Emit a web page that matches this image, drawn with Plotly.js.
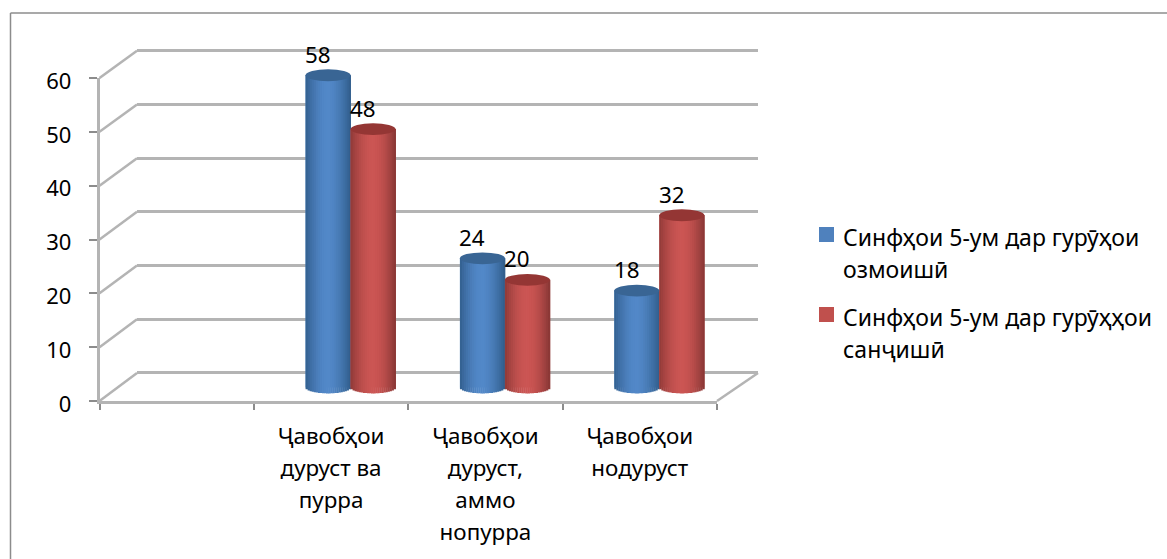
<!DOCTYPE html>
<html><head><meta charset="utf-8">
<script src="https://cdn.plot.ly/plotly-3.0.1.min.js"></script>
<style>html,body{margin:0;padding:0;background:#fff}</style></head>
<body><div id="chart" style="width:1167px;height:559px"></div>
<script>
// ---- data ----
const categories = ["Ҷавобҳои<br>дуруст ва<br>пурра", "Ҷавобҳои<br>дуруст,<br>аммо<br>нопурра", "Ҷавобҳои<br>нодуруст"];
const seriesNames = ["Синфҳои 5-ум дар гурӯҳои<br>озмоишӣ", "Синфҳои 5-ум дар гурӯҳҳои<br>санҷишӣ"];
const valuesBlue = [58, 24, 18];
const valuesRed = [48, 20, 32];
const yTicks = [0, 10, 20, 30, 40, 50, 60];

// ---- style / layout constants (pixels of the 1167x559 page) ----
const W = 1167, H = 559;
const FONT = "Noto Sans, sans-serif";
const TXT = 22.4, LEG = 23, LINE = 24.6;  // glyph sizes and the size that yields the 32px line pitch
const wrap = (s, size) => s.split("<br>").map(l => `<span style="font-size:${size}px">${l}</span>`).join("<br>");
const px = x => x / W, py = y => 1 - y / H;
const front = {x0: 99.5, x1: 717, y0: 401, y1: 78};
const wall  = {x0: 137, x1: 758, y0: 373, y1: 50.7};
const mid   = {x0: 119, x1: 736.5, y0: 387.5, y1: 64.5};
const LINEC = "#b4b4b4";
const unitW = (wall.y0 - wall.y1) / 60, unitM = (mid.y0 - mid.y1) / 60;  // px per value unit
const padW = 1, padM = 5;                                               // value units of slack outside 0..60

const blueStops = ["#33608f","#3f6fa6","#4a7cb8","#5086c6","#5389c9","#4f84c2","#477ab4","#3c6ca1","#315c8a"];
const redStops  = ["#8f3a38","#a84543","#bb4e4c","#c85452","#cc5654","#c75351","#b84c4a","#a14341","#873634"];
const capColors = ["#396594", "#943634"];

function ramp(stops, f) {
  const p = f * (stops.length - 1), i = Math.min(Math.floor(p), stops.length - 2), k = p - i;
  const c = s => [1,3,5].map(j => parseInt(s.substr(j,2),16));
  const a = c(stops[i]), b = c(stops[i+1]);
  return "rgb(" + a.map((v,j) => Math.round(v + (b[j]-v)*k)).join(",") + ")";
}

const allCats = [" "].concat(categories);
const catsLabelled = [" "].concat(categories.map(c => wrap(c, TXT)));
const barW = 45 / ((mid.x1 - mid.x0) / 4);   // cylinder width in category units
const ELL = 1.1;                             // ellipse half height in value units
const STRIPS = 22;
const traces = [];
const shapes = [];

// blank carriers so that the front and wall axes exist
traces.push({type:"scatter", x:catsLabelled.slice(1), y:[0,0,0], mode:"none", xaxis:"x", yaxis:"y", hoverinfo:"skip", showlegend:false});
traces.push({type:"scatter", x:[0,1], y:[0,0], mode:"none", xaxis:"x2", yaxis:"y2", hoverinfo:"skip", showlegend:false});

function cylinder(name, values, start, stops, capColor) {
  traces.push({type:"bar", name:name, x:categories, y:values, width:barW, offset:start,
    marker:{color:ramp(stops,0.5), line:{width:0}}, xaxis:"x3", yaxis:"y3", showlegend:false});
  const sw = barW / STRIPS;
  for (let i = 0; i < STRIPS; i++) {
    const t = ((i + 0.5) / STRIPS) * 2 - 1, s = Math.sqrt(1 - t*t) * ELL;
    traces.push({type:"bar", x:categories, y:values.map(v => v + s), base:values.map(() => -s),
      width:sw*1.2, offset:start + i*sw, marker:{color:ramp(stops,(i+0.5)/STRIPS), line:{width:0}},
      xaxis:"x3", yaxis:"y3", showlegend:false, hoverinfo:"skip"});
  }
  values.forEach((v,i) => shapes.push({type:"circle", xref:"x3", yref:"y3", x0:i+1+start, x1:i+1+start+barW,
    y0:v-ELL, y1:v+ELL, fillcolor:capColor, line:{width:0}, layer:"above"}));
}
cylinder(seriesNames[0], valuesBlue, -barW, blueStops, capColors[0]);
cylinder(seriesNames[1], valuesRed, 0, redStops, capColors[1]);

// data labels
const annotations = [];
[[valuesBlue,-barW/2],[valuesRed,barW/2]].forEach(([vals,dx]) => vals.forEach((v,i) => {
  annotations.push({x:i+1+dx, y:v, xref:"x3", yref:"y3", text:String(v), showarrow:false,
    xshift:-10, yshift:21, yanchor:"middle", xanchor:"center", font:{family:FONT,size:TXT,color:"#000"}});
}));
// legend
const legendTop = [219, 299], swatchTop = [227, 307], swatch = ["#4f81bd", "#c0504d"];
seriesNames.forEach((n,i) => {
  annotations.push({xref:"paper", yref:"paper", x:px(841), y:py(legendTop[i]), xanchor:"left", yanchor:"top", align:"left",
    showarrow:false, text:wrap(n, LEG), font:{family:FONT,size:LINE,color:"#000"}});
  shapes.push({type:"rect", xref:"paper", yref:"paper", x0:px(819), x1:px(834), y0:py(swatchTop[i]), y1:py(swatchTop[i]+15),
    fillcolor:swatch[i], line:{width:0}});
});
// chart frame
const seg = (x0,y0,x1,y1,c,w) => ({type:"line", xref:"paper", yref:"paper", x0:px(x0), y0:py(y0), x1:px(x1), y1:py(y1), line:{color:c,width:w}, layer:"below"});
shapes.push(seg(10.5,13,10.5,H,"#8c8c8c",1.5), seg(10.5,13,W,13,"#8c8c8c",1.5));
// depth edges of the gridlines
const yp = (a,v) => a.y0 + (a.y1-a.y0)*v/60;
yTicks.forEach(v => shapes.push(seg(front.x0, yp(front,v), wall.x0, yp(wall,v), LINEC, 2.5)));
shapes.push(seg(front.x1, front.y0, wall.x1, wall.y0, LINEC, 2.5));

const layout = {
  width:W, height:H, margin:{l:0,r:0,t:0,b:0,pad:0}, paper_bgcolor:"#fff", plot_bgcolor:"rgba(0,0,0,0)",
  showlegend:false, barmode:"overlay", font:{family:FONT,color:"#000"}, hovermode:false,
  xaxis:{domain:[px(front.x0),px(front.x1)], anchor:"y", type:"category", categoryorder:"array", categoryarray:catsLabelled,
    range:[-0.5,3.5], tickson:"boundaries", ticks:"outside", ticklen:6, tickwidth:1.5, tickcolor:"#8c8c8c",
    showline:true, linecolor:LINEC, linewidth:2.5, showgrid:false, zeroline:false, tickangle:0,
    tickfont:{family:FONT,size:LINE,color:"#000"}, ticklabelstandoff:11},
  yaxis:{domain:[py(front.y0),py(front.y1)], anchor:"x", range:[0,60], tickvals:yTicks, ticks:"outside", ticklen:8, tickwidth:1.5, tickcolor:"#8c8c8c",
    showline:true, linecolor:LINEC, linewidth:2.5, showgrid:false, zeroline:false,
    tickfont:{family:FONT,size:22,color:"#000"}, ticklabelstandoff:13, ticklabelshift:3},
  xaxis2:{domain:[px(wall.x0),px(wall.x1)], anchor:"y2", range:[0,1], visible:false},
  yaxis2:{domain:[py(wall.y0 + padW*unitW),py(wall.y1 - padW*unitW)], anchor:"x2", range:[-padW,60+padW], tickvals:yTicks, showticklabels:false, ticks:"",
    showgrid:true, gridcolor:LINEC, gridwidth:3, zeroline:true, zerolinecolor:LINEC, zerolinewidth:3, showline:false},
  xaxis3:{domain:[px(mid.x0),px(mid.x1)], anchor:"y3", type:"category", categoryorder:"array", categoryarray:allCats, range:[-0.5,3.5], visible:false},
  yaxis3:{domain:[py(mid.y0 + padM*unitM),py(mid.y1 - padM*unitM)], anchor:"x3", range:[-padM,60+padM], visible:false},
  annotations, shapes
};
Plotly.newPlot("chart", traces, layout, {displayModeBar:false, responsive:false});
</script></body></html>
